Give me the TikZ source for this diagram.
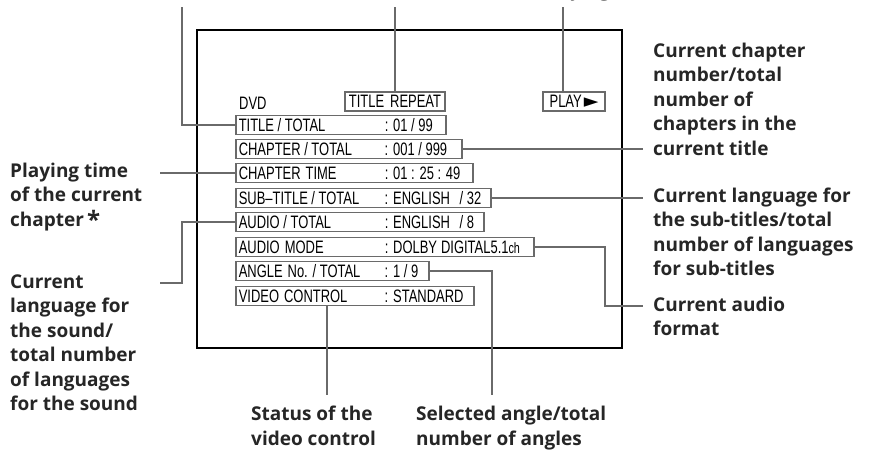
\documentclass[tikz,border=0pt]{standalone}
\usepackage{fontspec}
\setmainfont{Open Sans}
\newfontfamily\osd[FakeStretch=0.72]{Liberation Sans}
\newfontfamily\symf{DejaVu Sans}
\definecolor{ln}{HTML}{6A6A6A}
\newcommand{\osdline}[3]{\makebox[#1pt][l]{\makebox[146pt][l]{#2}: #3}}
\begin{document}
\begin{tikzpicture}[x=1pt,y=-1pt,
  conn/.style={draw=ln,line width=1.3pt},
  osdrow/.style={draw=ln,line width=1.5pt,anchor=west,inner xsep=3pt,inner ysep=0pt,
    minimum height=19pt,font=\osd\fontsize{18}{18}\selectfont},
  osdbox/.style={draw=ln,line width=1.5pt,inner xsep=2pt,inner ysep=0pt,
    minimum height=19pt,font=\osd\fontsize{18}{18}\selectfont},
  lab/.style={font=\bfseries\fontsize{19}{24.5}\selectfont,align=left,inner sep=0pt,text=black!85},
  ]
\path[use as bounding box] (0,0) rectangle (875,450);
\clip (0,0) rectangle (875,450);
\fill[white] (0,0) rectangle (875,450);

% screen
\draw[black,line width=1.2pt] (197,30) rectangle (622,348);

% header
\node[font=\osd\fontsize{18}{18}\selectfont,anchor=base west,inner sep=0pt] (dvd) at (239,109) {DVD};
\node[osdbox,minimum width=100pt] (rep) at (395,101.5) {TITLE\hspace{6pt}REPEAT};
\node[osdbox,minimum width=62pt] (play) at (574,101.5) {PLAY\hspace{2pt}{\symf\fontsize{19}{19}\selectfont ►}};

% rows
\node[osdrow] (r1) at (235,125) {\osdline{204}{TITLE / TOTAL}{01 / 99}};
\node[osdrow] (r2) at (235,149) {\osdline{220}{CHAPTER / TOTAL}{001 / 999}};
\node[osdrow] (r3) at (235,173) {\osdline{231}{CHAPTER\hspace{5pt}TIME}{01 : 25 : 49}};
\node[osdrow] (r4) at (235,198) {\osdline{249}{SUB–TITLE / TOTAL}{ENGLISH\hspace{6pt} / 32}};
\node[osdrow] (r5) at (235,222) {\osdline{242}{AUDIO / TOTAL}{ENGLISH\hspace{6pt} / 8}};
\node[osdrow] (r6) at (235,247) {\osdline{292}{AUDIO\hspace{5pt}MODE}{DOLBY\hspace{4pt}DIGITAL5.1{\fontsize{15}{15}\selectfont ch}}};
\node[osdrow] (r7) at (235,271) {\osdline{187}{ANGLE\hspace{5pt}No. / TOTAL}{1 / 9}};
\node[osdrow] (r8) at (235,296) {\osdline{232}{VIDEO\hspace{5pt}CONTROL}{STANDARD}};

% labels (base anchor = baseline of the last line)
\node[lab,anchor=base west] (top) at (541,-4) {Playing};
\node[lab,anchor=base west] (L1) at (653,155) {Current chapter\\number/total\\number of\\chapters in the\\current title};
\node[lab,anchor=base west] (L2) at (653,275.5) {Current language for\\the sub-titles/total\\number of languages\\for sub-titles};
\node[lab,anchor=base west] (L3) at (653,335.5) {Current audio\\format};
\node[lab,anchor=base west] (L4) at (10,226) {Playing time\\of the current\\chapter\hspace{3pt}\raisebox{-2pt}{\fontsize{24}{24}\selectfont *}};
\node[lab,anchor=base west] (L5) at (10,410.5) {Current\\language for\\the sound/\\total number\\of languages\\for the sound};
\node[lab,anchor=base west] (L6) at (251,445) {Status of the\\video control};
\node[lab,anchor=base west] (L7) at (416,445) {Selected angle/total\\number of angles};

% free ends
\coordinate (t1) at (182,7);
\coordinate (t2) at (395,7);
\coordinate (t3) at (563,7);
\coordinate (c1) at (643,149);
\coordinate (c2) at (643,198);
\coordinate (c3) at (643,306);
\coordinate (p1) at (160,173);
\coordinate (p2) at (160,283);
\coordinate (b1) at (327,395);
\coordinate (b2) at (492,395);

% connectors
\draw[conn] (t1) |- (r1.west);
\draw[conn] (t2) -- (t2 |- rep.north);
\draw[conn] (t3) -- (t3 |- play.north);
\draw[conn] (r2.east) -- (r2.east -| c1);
\draw[conn] (r4.east) -- (r4.east -| c2);
\draw[conn] (r6.east) -| (605,306) -- (c3);
\draw[conn] (p1) -- (p1 -| r3.west);
\draw[conn] (r5.west) -| (182,283) -- (p2);
\draw[conn] (r8.south -| b1) -- (b1);
\draw[conn] (r7.east) -| (b2);
\end{tikzpicture}
\end{document}
